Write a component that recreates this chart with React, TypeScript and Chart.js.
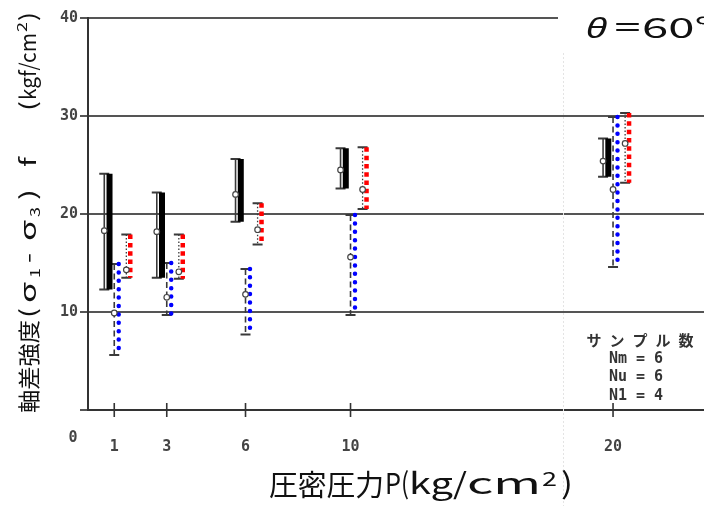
import React, { useEffect, useRef } from "react";
import { Chart, registerables } from "chart.js";

Chart.register(...registerables);

// ---- data ----
const pressures = [1, 3, 6, 10, 20];
const yTickValues = [0, 10, 20, 30, 40];

// Nm series (black)
const nmMean = [18.3, 18.2, 22.0, 24.5, 25.4];
const nmMax = [24.1, 22.2, 25.6, 26.7, 27.7];
const nmMin = [12.3, 13.5, 19.2, 22.6, 23.8];
// Nu series (blue)
const nuMean = [9.9, 11.5, 11.8, 15.6, 22.5];
const nuMax = [14.9, 15.0, 14.4, 19.9, 29.9];
const nuMin = [5.6, 9.7, 7.7, 9.7, 14.6];
// Nl series (red)
const nlMean = [14.3, 14.1, 18.4, 22.5, 27.2];
const nlMax = [17.9, 17.9, 21.1, 26.8, 30.3];
const nlMin = [13.5, 13.4, 16.9, 20.5, 23.2];

const legendLines = ["サンプル数", "Nm = 6", "Nu = 6", "N1 = 4"];

// ---- style constants ----
const OFF_NM = -0.38;
const OFF_NU = 0;
const OFF_NL = 0.46;
const SHIFT_NM = 0.2;
const SHIFT_NU = 0.17;
const SHIFT_NL = 0.15;

const CANVAS_W = 718;
const TICK_FONT = { family: "'DejaVu Sans Mono', monospace", size: 15, weight: "bold" as const };
const JP = "'Noto Sans CJK JP', 'Noto Sans', sans-serif";

function rangeLine(mins: number[], maxs: number[], off: number) {
  const pts: { x: number; y: number | null }[] = [];
  pressures.forEach((p, i) => {
    pts.push({ x: p + off, y: maxs[i] });
    pts.push({ x: p + off, y: mins[i] });
    pts.push({ x: p + off, y: null });
  });
  return pts;
}

function meanPoints(means: number[], off: number) {
  return pressures.map((p, i) => ({ x: p + off, y: means[i] }));
}

function drawStretched(ctx: CanvasRenderingContext2D, text: string, x0: number, x1: number, y: number, font: string) {
  ctx.font = font;
  const w = ctx.measureText(text).width || 1;
  const sx = (x1 - x0) / w;
  ctx.save();
  ctx.translate(x0, y);
  ctx.scale(sx, 1);
  ctx.fillText(text, 0, 0);
  ctx.restore();
}

const whiskerSeries = [
  { mins: nmMin, maxs: nmMax, off: OFF_NM, dash: [] as number[], width: 1.6 },
  { mins: nuMin, maxs: nuMax, off: OFF_NU, dash: [6, 3.5], width: 1.6 },
  { mins: nlMin, maxs: nlMax, off: OFF_NL, dash: [1.5, 2], width: 1.3 },
];

const decorPlugin = {
  id: "decor",
  beforeDatasetsDraw(chart: any) {
    const { ctx, scales, chartArea } = chart;
    const xs = scales.x;
    const ys = scales.y;
    ctx.save();
    // faint scan seam
    ctx.strokeStyle = "#e4e4e4";
    ctx.lineWidth = 1;
    ctx.setLineDash([2, 2]);
    ctx.beginPath();
    ctx.moveTo(563.5, 53);
    ctx.lineTo(563.5, 506);
    ctx.stroke();
    ctx.setLineDash([]);

    // x tick marks crossing the axis
    ctx.strokeStyle = "#333";
    ctx.lineWidth = 1.6;
    pressures.forEach((p) => {
      const x = xs.getPixelForValue(p);
      ctx.beginPath();
      ctx.moveTo(x, chartArea.bottom - 7);
      ctx.lineTo(x, chartArea.bottom + 7);
      ctx.stroke();
    });

    // whiskers with caps
    whiskerSeries.forEach((s) => {
      pressures.forEach((p, i) => {
        const x = xs.getPixelForValue(p + s.off);
        const yt = ys.getPixelForValue(s.maxs[i]);
        const yb = ys.getPixelForValue(s.mins[i]);
        ctx.strokeStyle = "#3a3a3a";
        ctx.lineWidth = s.width;
        ctx.setLineDash(s.dash);
        ctx.beginPath();
        ctx.moveTo(x, yt);
        ctx.lineTo(x, yb);
        ctx.stroke();
        ctx.setLineDash([]);
        ctx.lineWidth = 2;
        ctx.beginPath();
        ctx.moveTo(x - 5, yt);
        ctx.lineTo(x + 5, yt);
        ctx.moveTo(x - 5, yb);
        ctx.lineTo(x + 5, yb);
        ctx.stroke();
      });
    });
    ctx.restore();
  },
  afterDraw(chart: any) {
    const { ctx, scales, chartArea } = chart;
    const xs = scales.x;
    ctx.save();
    // "0" at the corner
    ctx.fillStyle = "#444";
    ctx.font = `bold 15px 'DejaVu Sans Mono', monospace`;
    ctx.textAlign = "center";
    ctx.textBaseline = "middle";
    ctx.fillText("0", xs.getPixelForValue(0) - 15, chartArea.bottom + 28);

    // theta box
    ctx.fillStyle = "#fff";
    ctx.fillRect(558, 0, CANVAS_W - 558, 50);
    ctx.fillStyle = "#111";
    ctx.textAlign = "left";
    ctx.textBaseline = "alphabetic";
    drawStretched(ctx, "θ", 586, 607, 38, `italic 28px 'Noto Sans', sans-serif`);
    drawStretched(ctx, "＝", 612, 643, 38, `28px ${JP}`);
    drawStretched(ctx, "60°", 642, 712, 38, `28px ${JP}`);

    // legend text (sample counts)
    ctx.fillStyle = "#333";
    ctx.textAlign = "center";
    ctx.textBaseline = "middle";
    ctx.font = `bold 15px ${JP}`;
    (ctx as any).letterSpacing = "8px";
    ctx.fillText(legendLines[0], 644, 340);
    (ctx as any).letterSpacing = "0px";
    ctx.font = `bold 15px 'DejaVu Sans Mono', monospace`;
    ctx.fillText(legendLines[1], 636, 359);
    ctx.fillText(legendLines[2], 636, 377);
    ctx.fillText(legendLines[3], 636, 396);

    // x axis title
    ctx.fillStyle = "#111";
    ctx.textAlign = "left";
    ctx.textBaseline = "alphabetic";
    const fx = `29px ${JP}`;
    drawStretched(ctx, "圧密圧力", 269, 384, 496, fx);
    drawStretched(ctx, "P", 385, 401, 494, fx);
    drawStretched(ctx, "(", 401, 409, 494, fx);
    drawStretched(ctx, "kg", 409, 453, 494, fx);
    drawStretched(ctx, "/", 453, 467, 494, fx);
    drawStretched(ctx, "cm", 467, 541, 494, fx);
    drawStretched(ctx, "2", 542, 557, 486, `19px ${JP}`);
    drawStretched(ctx, ")", 561, 573, 494, fx);

    // y axis title (rotated)
    ctx.save();
    ctx.translate(37, 413);
    ctx.rotate(-Math.PI / 2);
    const fy = `22px ${JP}`;
    const fs = `13px ${JP}`;
    drawStretched(ctx, "軸差強度", 0, 93, 0, fy);
    drawStretched(ctx, "(", 95, 105, -1, fy);
    drawStretched(ctx, "σ", 110, 131, -1, fy);
    drawStretched(ctx, "1", 135, 145, 3, fs);
    drawStretched(ctx, "-", 150, 160, -1, fy);
    drawStretched(ctx, "σ", 172, 193, -1, fy);
    drawStretched(ctx, "3", 196, 206, 3, fs);
    drawStretched(ctx, ")", 213, 224, -1, fy);
    drawStretched(ctx, "f", 246, 256, -1, fy);
    drawStretched(ctx, "(", 302, 312, -1, fy);
    drawStretched(ctx, "kgf/cm", 313, 380, -1, fy);
    drawStretched(ctx, "2", 381, 391, -10, fs);
    drawStretched(ctx, ")", 392, 401, -1, fy);
    ctx.restore();

    ctx.restore();
  },
};

export default function App() {
  const ref = useRef<HTMLCanvasElement | null>(null);

  useEffect(() => {
    if (!ref.current) return;
    const chart = new Chart(ref.current, {
      type: "scatter",
      data: {
        datasets: [
          {
            label: "Nm mean",
            data: meanPoints(nmMean, OFF_NM),
            showLine: false,
            pointRadius: 2.8,
            pointBorderWidth: 1.2,
            pointBackgroundColor: "#fff",
            pointBorderColor: "#444",
          },
          {
            label: "Nu mean",
            data: meanPoints(nuMean, OFF_NU),
            showLine: false,
            pointRadius: 2.8,
            pointBorderWidth: 1.2,
            pointBackgroundColor: "#fff",
            pointBorderColor: "#444",
          },
          {
            label: "Nl mean",
            data: meanPoints(nlMean, OFF_NL),
            showLine: false,
            pointRadius: 2.8,
            pointBorderWidth: 1.2,
            pointBackgroundColor: "#fff",
            pointBorderColor: "#444",
          },
          {
            label: "Nm",
            data: rangeLine(nmMin, nmMax, OFF_NM + SHIFT_NM),
            showLine: true,
            spanGaps: false,
            borderColor: "#000",
            borderWidth: 6,
            pointRadius: 0,
          },
          {
            label: "Nu",
            data: rangeLine(nuMin, nuMax, OFF_NU + SHIFT_NU),
            showLine: true,
            spanGaps: false,
            borderColor: "#0000ff",
            borderWidth: 4.5,
            borderDash: [0, 8.4],
            borderCapStyle: "round",
            pointRadius: 0,
          },
          {
            label: "Nl",
            data: rangeLine(nlMin, nlMax, OFF_NL + SHIFT_NL),
            showLine: true,
            spanGaps: false,
            borderColor: "#ff0000",
            borderWidth: 4.5,
            borderDash: [4.5, 3.8],
            pointRadius: 0,
          },
        ] as any,
      },
      options: {
        animation: false,
        responsive: false,
        devicePixelRatio: 1,
        layout: { padding: { top: 18, right: 0, left: 0, bottom: 0 } },
        plugins: { legend: { display: false }, tooltip: { enabled: false } },
        scales: {
          x: {
            type: "linear",
            min: 0,
            max: 23.8,
            afterBuildTicks: (scale: any) => {
              scale.ticks = pressures.map((v) => ({ value: v }));
            },
            afterFit: (scale: any) => {
              scale.height = 96;
            },
            grid: { display: false },
            border: { display: true, color: "#333", width: 2 },
            ticks: {
              autoSkip: false,
              maxRotation: 0,
              padding: 20,
              color: "#444",
              font: TICK_FONT,
              callback: (v: any) => String(v),
            },
          },
          y: {
            type: "linear",
            min: 0,
            max: 40,
            afterBuildTicks: (scale: any) => {
              scale.ticks = yTickValues.map((v) => ({ value: v }));
            },
            afterFit: (scale: any) => {
              scale.width = 88;
            },
            grid: { color: "#555", lineWidth: 2, tickLength: 8, drawTicks: true },
            border: { display: true, color: "#333", width: 2 },
            ticks: {
              padding: 2,
              color: "#444",
              font: TICK_FONT,
              callback: (v: any) => (v === 0 ? "" : String(v)),
            },
          },
        },
      } as any,
      plugins: [decorPlugin],
    });
    return () => chart.destroy();
  }, []);

  return (
    <div style={{ position: "fixed", left: 0, top: 0, width: 704, height: 506, background: "#fff", overflow: "hidden" }}>
      <canvas ref={ref} width={CANVAS_W} height={506} style={{ display: "block" }} />
    </div>
  );
}
